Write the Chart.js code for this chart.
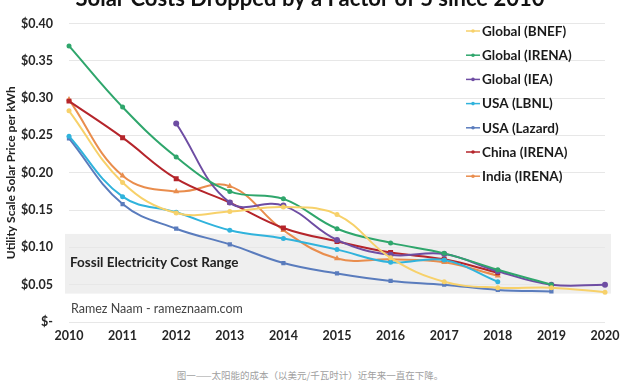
<!DOCTYPE html>
<html><head><meta charset="utf-8">
<script src="https://cdn.jsdelivr.net/npm/chart.js@4/dist/chart.umd.min.js"></script>
<style>
html,body{margin:0;padding:0;background:#fff;}
#wrap{position:relative;width:640px;height:383px;overflow:hidden;background:#fff;}
#c{position:absolute;left:0;top:0;}
#cap{position:absolute;left:0;width:620px;top:368px;text-align:center;font:9.5px "Noto Sans CJK SC",sans-serif;color:#a0a0a0;white-space:nowrap;}
</style></head>
<body><div id="wrap"><canvas id="c" width="640" height="362"></canvas><div id="cap">图一——太阳能的成本（以美元/千瓦时计）近年来一直在下降。</div></div>
<script>
const years = ['2010','2011','2012','2013','2014','2015','2016','2017','2018','2019','2020'];
const seriesNames = ['Global (BNEF)','Global (IRENA)','Global (IEA)','USA (LBNL)','USA (Lazard)','China (IRENA)','India (IRENA)'];
const globalBNEF  = [0.283,0.187,0.146,0.148,0.154,0.144,0.086,0.054,0.046,0.046,0.040];
const globalIRENA = [0.370,0.288,0.221,0.175,0.165,0.125,0.106,0.092,0.070,0.050,null];
const globalIEA   = [null,null,0.266,0.160,0.156,0.110,0.090,0.091,0.068,0.050,0.050];
const usaLBNL     = [0.249,0.168,0.147,0.123,0.112,0.097,0.080,0.083,0.054,null,null];
const usaLazard   = [0.246,0.158,0.125,0.104,0.079,0.065,0.055,0.050,0.043,0.041,null];
const chinaIRENA  = [0.296,0.247,0.192,0.160,0.126,0.108,0.093,0.084,0.066,null,null];
const indiaIRENA  = [0.298,0.196,0.175,0.182,0.123,0.085,0.084,0.080,0.062,null,null];
const yTickLabels = ['$-','$0.05','$0.10','$0.15','$0.20','$0.25','$0.30','$0.35','$0.40'];
const fossilRange = [0.038,0.118];
const titleText = 'Solar Costs Dropped by a Factor of 5 since 2010';
const yTitle = 'Utility Scale Solar Price per kWh';
const bandLabel = 'Fossil Electricity Cost Range';
const creditText = 'Ramez Naam - rameznaam.com';

const allSeries = [globalBNEF,globalIRENA,globalIEA,usaLBNL,usaLazard,chinaIRENA,indiaIRENA];
const colors = ['#F7D16A','#2FA66C','#6E4DA3','#30B3DC','#5A7CBD','#B5252B','#E98D4D'];
const shapes = ['circle','circle','circle','circle','rect','rect','triangle'];
const radii = [2.5,2.5,3,2.5,3,3.5,3.5];
const FONT = 'Lato, "Open Sans", sans-serif';

const datasets = allSeries.map((d,i)=>({
  label: seriesNames[i], data: d, borderColor: colors[i], backgroundColor: colors[i],
  borderWidth: 2, pointStyle: shapes[i], pointRadius: radii[i], pointBorderWidth: 0,
  tension: 0.4, fill: false
}));

const decor = {
  id:'decor',
  beforeDraw(chart){
    const {ctx, chartArea:a, scales:{y}} = chart;
    ctx.save();
    const t = y.getPixelForValue(fossilRange[1]), b = y.getPixelForValue(fossilRange[0]);
    ctx.fillStyle = '#efefef';
    ctx.fillRect(a.left-4, t, a.right-a.left+10, b-t);
    ctx.fillStyle = '#222';
    ctx.font = 'bold 13.5px ' + FONT;
    ctx.textAlign = 'left'; ctx.textBaseline = 'middle';
    ctx.fillText(bandLabel, a.left+1, y.getPixelForValue(0.079));
    ctx.fillStyle = '#444';
    ctx.font = '12.5px ' + FONT;
    ctx.fillText(creditText, a.left+2, y.getPixelForValue(0.018));
    ctx.fillStyle = '#111';
    ctx.font = 'bold 22px ' + FONT;
    ctx.textAlign = 'center'; ctx.textBaseline = 'alphabetic';
    ctx.fillText(titleText, 310, 6);
    ctx.restore();
  },
  afterDatasetsDraw(chart){
    const {ctx} = chart;
    ctx.save();
    chart.data.datasets.forEach((ds,i)=>{
      const yy = 31 + i*24.2;
      ctx.strokeStyle = ds.borderColor; ctx.lineWidth = 1.5;
      ctx.beginPath(); ctx.moveTo(466,yy); ctx.lineTo(480,yy); ctx.stroke();
      ctx.fillStyle = ds.borderColor;
      ctx.beginPath(); ctx.arc(473,yy,1.8,0,Math.PI*2); ctx.fill();
      ctx.fillStyle = '#1a1a1a';
      ctx.font = 'bold 13.5px ' + FONT;
      ctx.textAlign = 'left'; ctx.textBaseline = 'middle';
      ctx.fillText(ds.label, 482, yy+0.5);
    });
    ctx.restore();
  }
};

new Chart(document.getElementById('c'), {
  type: 'line',
  data: { labels: years, datasets },
  options: {
    responsive: false, devicePixelRatio: 1, animation: false,
    layout: { padding: { top: 19, right: 35, bottom: 13, left: 0 } },
    plugins: { legend: { display: false }, tooltip: { enabled: false } },
    scales: {
      x: {
        type: 'category', offset: false,
        grid: { display: false, drawTicks: false }, border: { display: false },
        ticks: { padding: 6, maxRotation: 0, autoSkip: false, color: '#262626', font: { family: FONT, size: 12.5, weight: 'bold' } }
      },
      y: {
        min: 0, max: 0.4,
        afterFit(s){ s.width = 69; },
        grid: { color: '#e7e7e7', drawTicks: false, lineWidth: 1 }, border: { display: false },
        ticks: { stepSize: 0.05, padding: 16, color: '#262626', font: { family: FONT, size: 12.5, weight: 'bold' },
          callback: (v, idx) => yTickLabels[idx] },
        title: { display: true, text: yTitle, color: '#222', padding: { top: 4, bottom: 0 }, font: { family: FONT, size: 12, weight: 'bold' } }
      }
    }
  },
  plugins: [decor]
});
</script></body></html>
